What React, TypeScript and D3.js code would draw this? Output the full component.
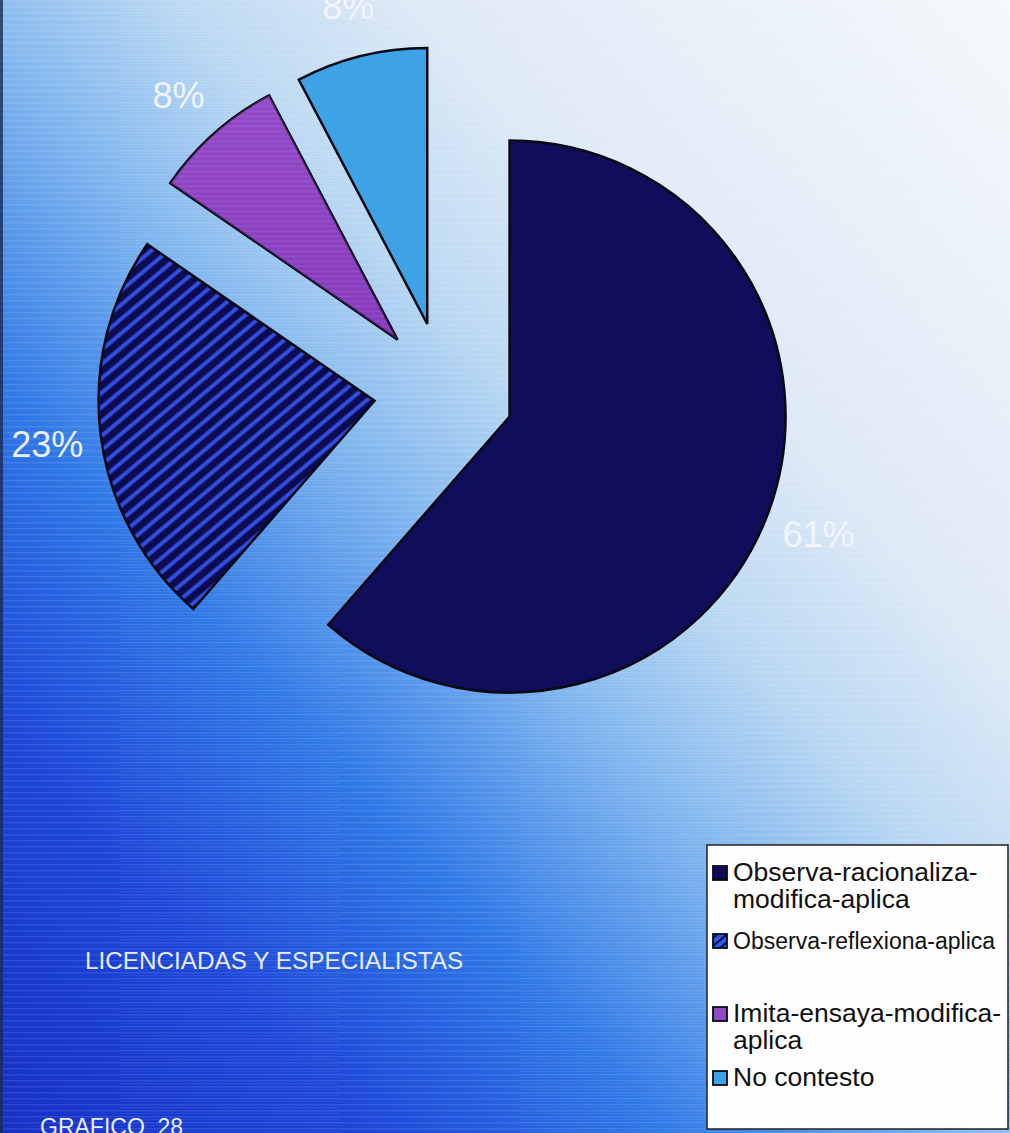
import React from 'react';
import * as d3 from 'd3';

const categories = [
  'Observa-racionaliza-modifica-aplica',
  'Observa-reflexiona-aplica',
  'Imita-ensaya-modifica-aplica',
  'No contesto',
];
const values = [61.4, 23.2, 7.7, 7.7];
const percentLabels = ['61%', '23%', '8%', '8%'];
const legendLines = [
  ['Observa-racionaliza-', 'modifica-aplica'],
  ['Observa-reflexiona-aplica'],
  ['Imita-ensaya-modifica-', 'aplica'],
  ['No contesto'],
];
const chartTitle = 'LICENCIADAS Y ESPECIALISTAS';
const figureLabel = 'GRAFICO  28';

const W = 1010;
const H = 1133;
const FONT = '"Liberation Sans", Arial, Helvetica, sans-serif';

export default function App() {
  const cx = 444;
  const cy = 392;
  const radius = 276;
  const explode = 70;
  const labelR = 400;

  const fills = ['#100d5a', 'url(#stripe23)', 'url(#purpleFill)', '#3ea2e6'];
  const legendFills = ['#0d0b55', 'url(#stripeLegend)', '#8e4cc4', '#3ea2e6'];

  const pie = d3
    .pie<number>()
    .sort(null)
    .value((d) => d)
    .startAngle(0)
    .endAngle(2 * Math.PI);
  const arcs = pie(values);
  const arcGen = d3.arc<d3.PieArcDatum<number>>().innerRadius(0).outerRadius(radius);

  const legendX = 707;
  const legendY = 845;
  const legendW = 301;
  const legendH = 284;
  const entryTop = [866, 934, 1007, 1071];
  const entryFont = [26.5, 23, 26.5, 26.5];
  const lineGap = 27;

  return (
    <svg
      width={W}
      height={H}
      viewBox={`0 0 ${W} ${H}`}
      style={{ position: 'absolute', left: 0, top: 0, display: 'block' }}
    >
      <defs>
        <linearGradient id="bg" x1="0" y1="1" x2="1" y2="0">
          <stop offset="0" stopColor="#1630c6" />
          <stop offset="0.18" stopColor="#1c46d8" />
          <stop offset="0.33" stopColor="#2f78e6" />
          <stop offset="0.47" stopColor="#7db4ee" />
          <stop offset="0.58" stopColor="#b9d7f2" />
          <stop offset="0.7" stopColor="#dde9f6" />
          <stop offset="1" stopColor="#f5f8fc" />
        </linearGradient>
        <pattern id="streaks" patternUnits="userSpaceOnUse" width="400" height="6">
          <rect x="0" y="0" width="400" height="1.5" fill="#ffffff" opacity="0.10" />
          <rect x="120" y="3" width="220" height="1" fill="#ffffff" opacity="0.07" />
        </pattern>
        <pattern
          id="stripe23"
          patternUnits="userSpaceOnUse"
          width="20"
          height="11"
          patternTransform="rotate(-40)"
        >
          <rect x="0" y="0" width="20" height="11" fill="#0c0b4e" />
          <rect x="0" y="3.5" width="20" height="4" fill="#3050e2" />
        </pattern>
        <pattern
          id="stripeLegend"
          patternUnits="userSpaceOnUse"
          width="10"
          height="6"
          patternTransform="rotate(-40)"
        >
          <rect x="0" y="0" width="10" height="6" fill="#2f5ce6" />
          <rect x="0" y="0" width="10" height="2" fill="#0c0b4e" />
        </pattern>
        <linearGradient id="purpleGrad" x1="0" y1="0" x2="0" y2="1">
          <stop offset="0" stopColor="#a45fd2" />
          <stop offset="1" stopColor="#7e32b6" />
        </linearGradient>
        <pattern id="purpleFill" patternUnits="userSpaceOnUse" width="300" height="5">
          <rect x="0" y="0" width="300" height="5" fill="#8a3ec0" />
          <rect x="0" y="1" width="300" height="1.2" fill="#b27ada" opacity="0.5" />
        </pattern>
      </defs>

      <rect x={0} y={0} width={W} height={H} fill="url(#bg)" />
      <rect x={0} y={0} width={W} height={H} fill="url(#streaks)" />
      <rect x={0} y={0} width={3} height={H} fill="#1b2a55" opacity={0.8} />

      <g transform={`translate(${cx},${cy})`}>
        {arcs.map((a, i) => {
          const mid = (a.startAngle + a.endAngle) / 2;
          const dx = explode * Math.sin(mid);
          const dy = -explode * Math.cos(mid);
          return (
            <g key={categories[i]} transform={`translate(${dx},${dy})`}>
              <path
                d={arcGen(a) || ''}
                fill={fills[i]}
                stroke="#0a0a14"
                strokeWidth={2.5}
                strokeLinejoin="miter"
              />
              {i === 2 && (
                <path d={arcGen(a) || ''} fill="url(#purpleGrad)" opacity={0.35} />
              )}
            </g>
          );
        })}
        {arcs.map((a, i) => {
          const mid = (a.startAngle + a.endAngle) / 2;
          const lx = labelR * Math.sin(mid);
          const ly = -labelR * Math.cos(mid);
          return (
            <text
              key={'lbl' + i}
              x={lx}
              y={ly + 15}
              textAnchor="middle"
              fontFamily={FONT}
              fontSize={36}
              fill="#f4f6fc"
              opacity={0.95}
            >
              {percentLabels[i]}
            </text>
          );
        })}
      </g>

      <text x={85} y={969} fontFamily={FONT} fontSize={24.3} fill="#e6ecf8">
        {chartTitle}
      </text>
      <text
        x={40}
        y={1135}
        fontFamily={FONT}
        fontSize={23}
        fill="#e6ecf8"
        style={{ whiteSpace: 'pre' }}
      >
        {figureLabel}
      </text>

      <g>
        <rect
          x={legendX}
          y={legendY}
          width={legendW}
          height={legendH}
          fill="#fdfdfd"
          stroke="#202020"
          strokeWidth={1.5}
        />
        {legendLines.map((lines, i) => (
          <g key={'leg' + i}>
            <rect
              x={713}
              y={entryTop[i]}
              width={14}
              height={14}
              fill={legendFills[i]}
              stroke="#0a0a14"
              strokeWidth={1.8}
            />
            {lines.map((ln, j) => (
              <text
                key={j}
                x={733}
                y={entryTop[i] + 15 + j * lineGap}
                fontFamily={FONT}
                fontSize={entryFont[i]}
                fill="#111"
              >
                {ln}
              </text>
            ))}
          </g>
        ))}
      </g>
    </svg>
  );
}
